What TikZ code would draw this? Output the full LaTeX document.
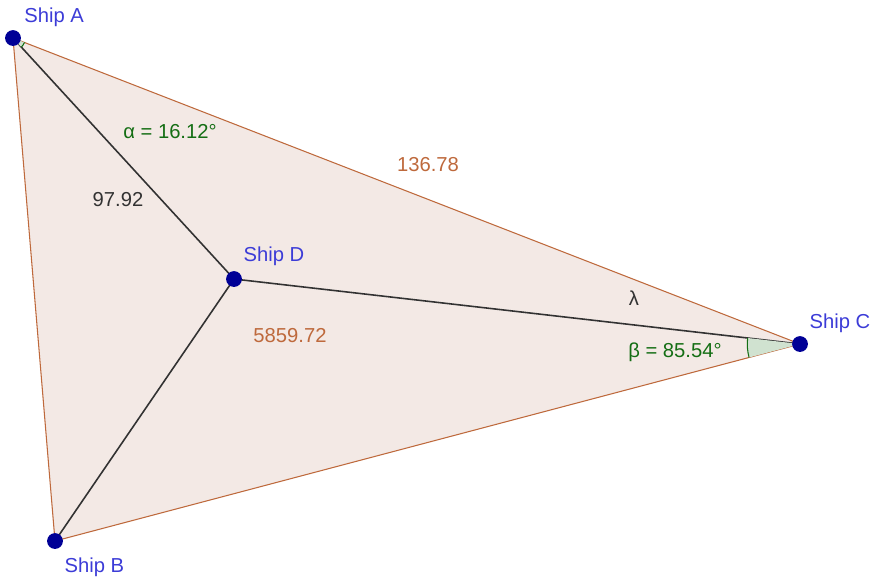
\documentclass[tikz,border=0pt]{standalone}
\usepackage{fontspec}
\setmainfont{Liberation Sans}
\usepackage{xcolor}
\usepackage{tikz}
\usetikzlibrary{positioning, angles}

\definecolor{edgebrown}{RGB}{190,105,60}
\definecolor{areafill}{RGB}{243,233,229}
\definecolor{anglegreen}{RGB}{20,110,20}
\definecolor{shipblue}{RGB}{60,60,215}
\definecolor{dotblue}{RGB}{0,0,150}
\definecolor{segment}{RGB}{50,50,50}

\begin{document}
\begin{tikzpicture}[
    x=0.02cm, y=-0.02cm,
    ship/.style={circle, fill=dotblue, inner sep=0pt, minimum size=9pt},
    shiplabel/.style={text=shipblue, inner sep=1pt, font=\fontsize{11.5}{13}\selectfont},
    measure/.style={inner sep=1pt, font=\fontsize{11.5}{13}\selectfont},
    side/.style={draw=edgebrown, line width=0.6pt},
    leg/.style={draw=segment, line width=0.9pt},
    anglemark/.style={draw=anglegreen, fill=anglegreen!20, line width=0.6pt, angle eccentricity=1}
]
\useasboundingbox (0,0) rectangle (875,583);

% ship positions
\coordinate (a) at (13,38);
\coordinate (b) at (55,541);
\coordinate (c) at (800,344);
\coordinate (d) at (234,279);

% triangle
\fill[areafill] (a) -- (b) -- (c) -- cycle;
\draw[side] (a) -- (b) -- (c) -- cycle;

% legs to Ship D
\draw[leg] (a) -- (d);
\draw[leg] (b) -- (d);
\draw[leg] (c) -- (d);

% angle markers
\pic[anglemark, angle radius=7pt] {angle = d--a--c};
\pic[anglemark, angle radius=30pt] {angle = d--c--b};

% ships
\node[ship] (shipA) at (a) {};
\node[ship] (shipB) at (b) {};
\node[ship] (shipC) at (c) {};
\node[ship] (shipD) at (d) {};

\node[shiplabel, above right=2pt and 2pt of shipA] (labelA) {Ship A};
\node[shiplabel, below right=5pt and 1pt of shipB] (labelB) {Ship B};
\node[shiplabel, above right=2pt and 1pt of shipC] (labelC) {Ship C};
\node[shiplabel, above right=3pt and 1pt of shipD] (labelD) {Ship D};

% measurements
\node[measure, text=anglegreen] (alpha) at (170,132) {α = 16.12°};
\node[measure, text=segment] (lenAD) at (118,200) {97.92};
\node[measure, text=edgebrown] (lenAC) at (428,165) {136.78};
\node[measure, text=edgebrown] (area) at (290,336) {5859.72};
\node[measure, text=segment] (lambda) at (634,298) {λ};
\node[measure, text=anglegreen] (beta) at (675,352) {β = 85.54°};

\end{tikzpicture}
\end{document}
